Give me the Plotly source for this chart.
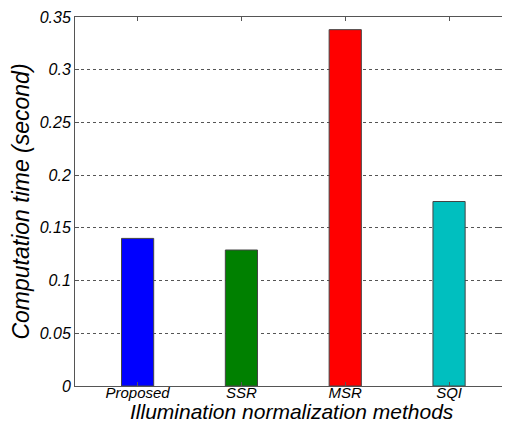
import plotly.graph_objects as go

methods = ["Proposed", "SSR", "MSR", "SQI"]
times = [0.140, 0.129, 0.338, 0.175]
colors = ["#0000FF", "#008000", "#FF0000", "#00BFBF"]
y_ticks = [0, 0.05, 0.1, 0.15, 0.2, 0.25, 0.3, 0.35]
y_tick_labels = ["0", "0.05", "0.1", "0.15", "0.2", "0.25", "0.3", "0.35"]
x_title = "Illumination normalization methods"
y_title = "Computation time (second)"

positions = list(range(1, len(methods) + 1))

fig = go.Figure()
fig.add_trace(go.Bar(
    x=positions, y=times, width=0.31,
    marker=dict(color=colors, line=dict(color="#444444", width=1)),
))

font_family = "Liberation Sans, Arial, sans-serif"
plot_h = 414 - 9 - 36
fig.update_layout(
    width=494, height=414,
    margin=dict(l=67, r=0, t=9, b=36, autoexpand=False),
    plot_bgcolor="white", paper_bgcolor="white",
    showlegend=False,
    font=dict(family=font_family, color="black"),
    xaxis=dict(
        range=[0.397, 4.51], tickvals=positions,
        ticktext=["<i>%s</i>" % m for m in methods],
        ticks="inside", ticklen=4, tickcolor="#555555",
        showline=True, linecolor="#555555", linewidth=1, mirror="ticks",
        showgrid=False, zeroline=False, automargin=False,
        tickfont=dict(size=15), ticklabelstandoff=-7,
    ),
    yaxis=dict(
        range=[0, 0.35], tickvals=y_ticks,
        ticktext=["<i>%s</i>" % t for t in y_tick_labels],
        ticks="inside", ticklen=4, tickcolor="#555555",
        showline=True, linecolor="#555555", linewidth=1, mirror="ticks",
        showgrid=True, gridcolor="#555555", griddash="dot", gridwidth=1,
        zeroline=False, automargin=False,
        tickfont=dict(size=16),
        title=dict(text="<i>%s</i>" % y_title,
                   font=dict(size=23), standoff=6),
    ),
    annotations=[dict(
        text="<i>%s</i>" % x_title, xref="paper", yref="paper",
        x=0.509, y=-37.5 / plot_h, xanchor="center", yanchor="bottom",
        showarrow=False, font=dict(size=21), borderpad=0,
    )],
)

fig.write_html("out.html")
